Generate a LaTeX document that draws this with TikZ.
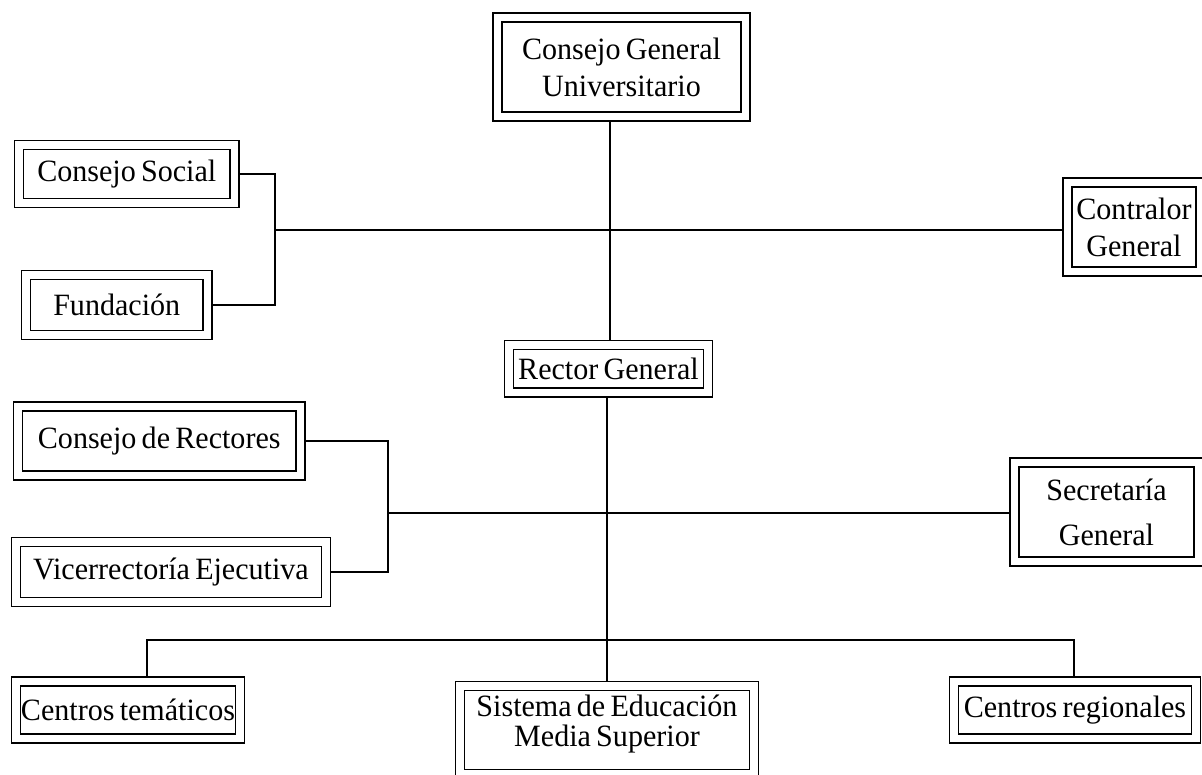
\documentclass[tikz,border=0pt]{standalone}
\usepackage{fontspec}
\setmainfont[FakeStretch=0.97, WordSpace=0.7]{Liberation Serif}
\begin{document}
\begin{tikzpicture}[x=1pt,y=-1pt,
  box/.style={draw, double, line width=1.3pt, double distance=7.6pt,
    inner sep=0pt, outer sep=5.1pt, align=center,
    font=\fontsize{31}{37}\selectfont},
  conn/.style={line width=1.8pt}]
\useasboundingbox[fill=white] (0,0) rectangle (1202,774);
% boxes
\node[box, minimum width=248pt, minimum height=99pt] (cgu) at (621.5,67) {Consejo General\\Universitario};
\node[box, minimum width=215.5pt, minimum height=58pt] (cs) at (126.75,174) {Consejo Social};
\node[box, minimum width=181.5pt, minimum height=60pt] (fu) at (116.75,305) {Fundación};
\node[box, minimum width=133pt, minimum height=89pt] (cg) at (1134,227) {Contralor\\General};
\node[box, minimum width=199pt, minimum height=47.5pt] (rg) at (608.5,368.75) {Rector General};
\node[box, minimum width=282.5pt, minimum height=69pt] (cr) at (159.25,441) {Consejo de Rectores};
\node[box, minimum width=310pt, minimum height=60pt] (ve) at (171,572) {Vicerrectoría Ejecutiva};
\node[box, minimum width=184pt, minimum height=99pt, font=\fontsize{31}{45}\selectfont] (sg) at (1106.5,512) {Secretaría\\General};
\node[box, minimum width=224pt, minimum height=57pt] (ctm) at (128,710) {Centros temáticos};
\node[box, minimum width=242pt, minimum height=57pt] (crg) at (1075,710) {Centros regionales};
\node[box, minimum width=294pt, minimum height=88pt, font=\fontsize{31}{30}\selectfont] (sems) at (607,730) {Sistema de Educación\\Media Superior\rule[-18pt]{0pt}{18pt}};
% junction coordinates
\coordinate (vx1) at (610,0);
\coordinate (vx2) at (607,0);
\coordinate (bk1) at (275,230);
\coordinate (bk2) at (388,513);
\coordinate (bl) at (147,640);
\coordinate (br) at (1074,640);
% connectors
\draw[conn] (cgu.south -| vx1) -- (rg.north -| vx1);
\draw[conn] (rg.south -| vx2) -- (sems.north -| vx2);
\draw[conn] (cs.east) -| (bk1) |- (fu.east);
\draw[conn] (bk1) -- (bk1 -| cg.west);
\draw[conn] (cr.east) -| (bk2) |- (ve.east);
\draw[conn] (bk2) -- (bk2 -| sg.west);
\draw[conn] (ctm.north -| bl) |- (br) -- (crg.north -| br);
\end{tikzpicture}
\end{document}
